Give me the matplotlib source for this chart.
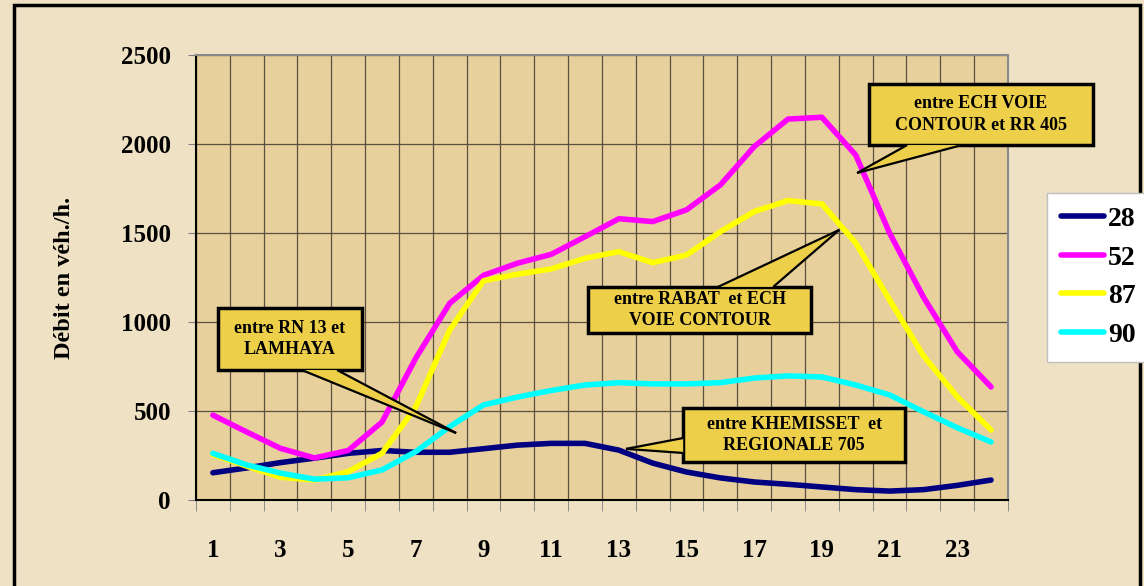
import matplotlib
matplotlib.use('Agg')
import matplotlib.pyplot as plt
import numpy as np
from matplotlib.patches import Rectangle, Polygon

plt.rcParams['font.family'] = ['Liberation Serif', 'DejaVu Serif']
plt.rcParams['font.weight'] = 'bold'

# hours 1..24
hours = list(range(1, 25))
labels = ['28', '52', '87', '90']
colors = ['#000080', '#FF00FF', '#FFFF00', '#00FFFF']

s28 = [153, 180, 210, 235, 262, 278, 268, 268, 288, 308, 318, 318, 280, 207, 157, 124,
       101, 88, 73, 58, 50, 58, 82, 112]
s52 = [477, 382, 290, 236, 278, 438, 798, 1105, 1262, 1330, 1380, 1479, 1580, 1564, 1630, 1770,
       1985, 2140, 2150, 1938, 1500, 1140, 833, 635]
s87 = [255, 190, 128, 112, 159, 263, 524, 955, 1232, 1268, 1298, 1358, 1395, 1333, 1376, 1507,
       1620, 1682, 1663, 1444, 1124, 810, 580, 393]
s90 = [262, 197, 151, 117, 125, 169, 272, 412, 534, 578, 615, 646, 659, 652, 652, 659,
       685, 697, 691, 646, 590, 496, 406, 326]
series = [s28, s52, s87, s90]

fig = plt.figure(figsize=(11.44, 5.86), dpi=100)
fig.patch.set_facecolor('#EEE1C4')
ax = fig.add_axes([0.1713, 0.1468, 0.7098, 0.7594])
ax.set_facecolor('#E8D09C')

for s, c, l in zip(series, colors, labels):
    ax.plot(hours, s, color=c, lw=4, label=l, solid_capstyle='round', zorder=3)

ax.set_xlim(0.5, 24.5)
ax.set_ylim(0, 2500)
ax.set_yticks(np.arange(0, 2501, 500))
ax.set_xticks(range(1, 25, 2))
ax.set_xticks(np.arange(0.5, 24.6, 1), minor=True)
ax.tick_params(axis='x', which='major', length=0, pad=28, labelsize=18)
ax.tick_params(axis='x', which='minor', length=8, color='#808080', direction='out')
ax.tick_params(axis='y', length=6, color='#808080', pad=12, labelsize=18)
ax.grid(True, which='major', axis='y', color='#5a5040', lw=0.9)
ax.grid(True, which='minor', axis='x', color='#5a5040', lw=0.9)
ax.set_axisbelow(True)
for side in ['top', 'right']:
    ax.spines[side].set_color('#8a8a8a')
    ax.spines[side].set_linewidth(1.5)
for side in ['left', 'bottom']:
    ax.spines[side].set_color('black')
    ax.spines[side].set_linewidth(1.5)

ax.set_ylabel('Débit en véh./h.', fontsize=17.5, fontweight='bold')
ax.yaxis.set_label_coords(-0.149, 0.5)

# callouts: text, box (x0, x1, y0, y1), pointer base (two points) and tip
gold = '#EECF4A'
callouts = [
    ('entre RN 13 et\nLAMHAYA', (1.15, 5.41, 730, 1079),
     [(3.63, 730), (4.67, 730)], (8.19, 376)),
    ('entre RABAT  et ECH\nVOIE CONTOUR', (12.09, 18.68, 938, 1197),
     [(15.93, 1197), (17.56, 1197)], (19.51, 1517)),
    ('entre ECH VOIE\nCONTOUR et RR 405', (20.39, 27.0, 1994, 2337),
     [(21.52, 1994), (23.14, 1994)], (20.04, 1837)),
    ('entre KHEMISSET  et\nREGIONALE 705', (14.9, 21.46, 213, 517),
     [(14.9, 348), (14.9, 264)], (13.21, 287)),
]
for txt, (x0, x1, y0, y1), base, tip in callouts:
    ax.add_patch(Rectangle((x0, y0), x1 - x0, y1 - y0, fc=gold, ec='black', lw=2.5,
                           zorder=5, clip_on=False))
    ax.add_patch(Polygon([base[0], tip, base[1]], closed=True, fc=gold, ec='none',
                         zorder=6, clip_on=False))
    for b in base:
        ax.plot([b[0], tip[0]], [b[1], tip[1]], color='black', lw=1.6, zorder=7,
                clip_on=False, solid_capstyle='butt')
    ax.text((x0 + x1) / 2, (y0 + y1) / 2, txt, ha='center', va='center', fontsize=13,
            fontweight='bold', linespacing=1.35, zorder=8)

leg = fig.legend(loc='upper left', bbox_to_anchor=(0.915, 0.671), fontsize=20,
                 frameon=True, fancybox=False, edgecolor='#c0c0c0', framealpha=1,
                 handlelength=1.55, handletextpad=0.15, labelspacing=0.47,
                 borderaxespad=0, borderpad=0.5)
leg.get_frame().set_linewidth(1)
for t in leg.get_texts():
    t.set_fontweight('bold')

fig.patches.append(Rectangle((14 / 1144, -0.01), 1126 / 1144, 1 - 5 / 586 + 0.01,
                             transform=fig.transFigure, fill=False, ec='black', lw=2.5))

fig.savefig('out.png', dpi=100, facecolor=fig.get_facecolor())
